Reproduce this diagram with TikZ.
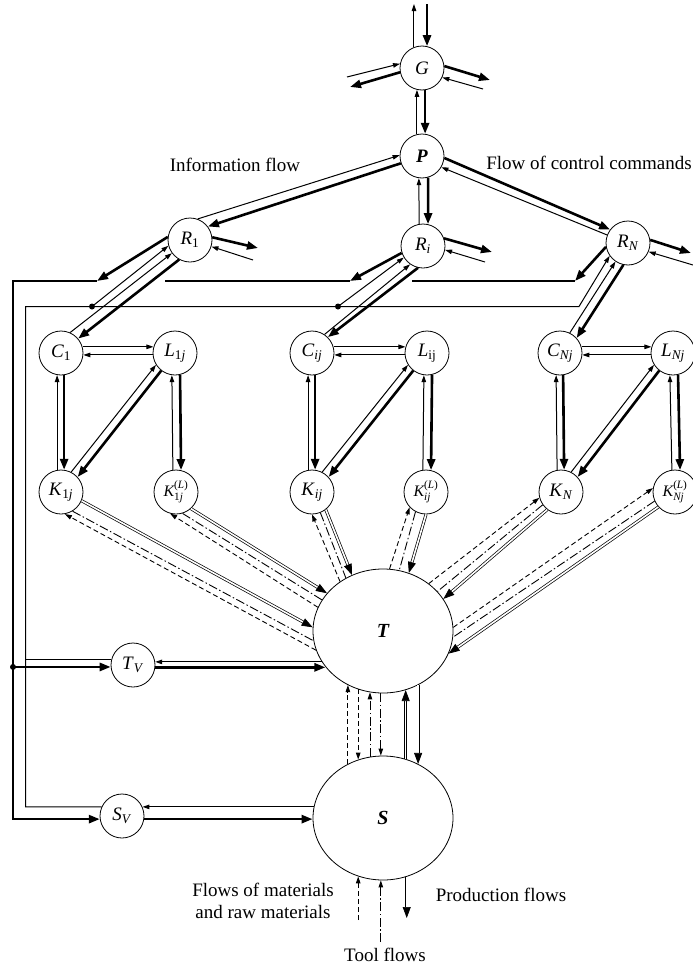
\documentclass[tikz,border=0pt]{standalone}
\usepackage{amsmath}
\usepackage{fontspec}
\setmainfont{Liberation Serif}
\usetikzlibrary{arrows.meta,shapes.geometric}
\begin{document}
\begin{tikzpicture}[x=1pt,y=-1pt,
  circ/.style={circle, draw, line width=0.8pt, minimum size=44pt, inner sep=0pt, font=\fontsize{19}{22}\selectfont},
  circs/.style={circ, font=\fontsize{16}{18}\selectfont},
  big/.style={ellipse, draw, line width=0.8pt, minimum width=140pt, minimum height=124pt, inner sep=0pt, font=\fontsize{20}{22}\selectfont\bfseries\itshape},
  lab/.style={font=\fontsize{19}{22}\selectfont, inner sep=0pt},
  thinl/.style={line width=1pt},
  thina/.style={line width=1pt, -{Triangle[length=7pt,width=4.5pt]}},
  thickl/.style={line width=2.6pt},
  thicka/.style={line width=2.6pt, -{Triangle[length=11pt,width=8pt]}},
  dbla/.style={double, line width=0.7pt, double distance=1.6pt, -{Triangle[length=11pt,width=8pt]}},
  dasha/.style={line width=0.9pt, dash pattern=on 5pt off 3pt, -{Triangle[length=7pt,width=4.5pt]}},
  dda/.style={line width=0.9pt, dash pattern=on 9pt off 2.5pt on 1.5pt off 2.5pt},
  ddaa/.style={dda, -{Triangle[length=7pt,width=4.5pt]}},
  dotf/.style={fill, circle, inner sep=0pt, minimum size=6pt}
]
\fill[white] (0,0) rectangle (693,969);
\useasboundingbox (0,0) rectangle (693,969);

% nodes
\node[circ] (G) at (422,68) {\textit{G}};
\node[circ] (P) at (422,156) {\textbf{\textit{P}}};
\node[circ] (R1) at (190,240) {\textit{R}\textsubscript{1}};
\node[circ] (R2) at (423,246) {\textit{R}\textsubscript{\textit{i}}};
\node[circ] (R3) at (628,243) {\textit{R}\textsubscript{\textit{N}}};

\node[circ] (C1) at (61,353) {\textit{C}\textsubscript{1}};
\node[circ] (L1) at (175,353) {\textit{L}\textsubscript{1\textit{j}}};
\node[circ] (K1) at (61,492) {\textit{K}\textsubscript{1\textit{j}}};
\node[circs] (KL1) at (176,492) {$\textit{K}^{\text{(\textit{L})}}_{\text{1\textit{j}}}$};

\node[circ] (C2) at (312,353) {\textit{C}\textsubscript{\textit{ij}}};
\node[circ] (L2) at (427,353) {\textit{L}\textsubscript{ij}};
\node[circ] (K2) at (312,492) {\textit{K}\textsubscript{\textit{ij}}};
\node[circs] (KL2) at (426,492) {$\textit{K}^{\text{(\textit{L})}}_{\text{\textit{ij}}}$};

\node[circ] (C3) at (560,353) {\textit{C}\textsubscript{\textit{Nj}}};
\node[circ] (L3) at (673,353) {\textit{L}\textsubscript{\textit{Nj}}};
\node[circ] (K3) at (561,492) {\textit{K}\textsubscript{\textit{N}}};
\node[circs] (KL3) at (675,492) {$\textit{K}^{\text{(\textit{L})}}_{\text{\textit{Nj}}}$};

\node[big] (T) at (383,631) {T};
\node[big] (S) at (383,818) {S};
\node[circ] (TV) at (133,665) {\textit{T}\textsubscript{\textit{V}}};
\node[circ] (SV) at (122,816) {\textit{S}\textsubscript{\textit{V}}};

% labels
\node[lab] (if) at (235,165) {Information flow};
\node[lab] (fc) at (589,163) {Flow of control commands};
\node[lab, align=center] (fm) at (263,901) {Flows of materials\\and raw materials};
\node[lab] (pf) at (501,895) {Production flows};
\node[lab] (tf) at (385,955) {Tool flows};

% free ends
\coordinate (gt1) at (414,4);
\coordinate (gt2) at (427,4);
\coordinate (gl1) at (347,77);
\coordinate (gl2) at (350,87);
\coordinate (gr1) at (490,80);
\coordinate (gr2) at (483,89);
\coordinate (r1a) at (258,248);
\coordinate (r1b) at (253,260);
\coordinate (r2a) at (492,252);
\coordinate (r2b) at (485,262);
\coordinate (r3a) at (691,253);
\coordinate (r3b) at (693,265);
\coordinate (b1) at (97,281);
\coordinate (b2) at (165,281);
\coordinate (b3) at (350,281);
\coordinate (b4) at (412,281);
\coordinate (b5) at (575,281);
\coordinate (bl) at (13,281);
\coordinate (tl) at (25.5,306.5);
\coordinate (tr) at (579,306.5);
\coordinate (d1) at (92,306.5);
\coordinate (d2) at (338,306.5);
\coordinate (sb1) at (358,920);
\coordinate (sb2) at (381,942);
\coordinate (sb3) at (407,918);

% G
\draw[thina] (G.111) -- (G.111 |- gt1);
\draw[thicka] (G.77 |- gt2) -- (G.77);
\draw[thina] (gl1) -- (G.169);
\draw[thicka] (G.191) -- (gl2);
\draw[thicka] (G.5) -- (gr1);
\draw[thina] (gr2) -- (G.335);
% G-P
\draw[thina] (P.103) -- (G.257);
\draw[thicka] (G.278) -- (P.82);
% P-R
\draw[thina] (R1.70) -- (P.178);
\draw[thicka] (P.199) -- (R1.37);
\draw[thina] (R2.100) -- (P.262);
\draw[thicka] (P.286) -- (R2.77);
\draw[thicka] (P.355) -- (R3.143);
\draw[thina] (R3.159) -- (P.330);
% R right
\draw[thicka] (R1.7) -- (r1a);
\draw[thina] (r1b) -- (R1.343);
\draw[thicka] (R2.20) -- (r2a);
\draw[thina] (r2b) -- (R2.350);
\draw[thicka] (R3.8) -- (r3a);
\draw[thina] (r3b) -- (R3.337);

% thick bus
\draw[thicka] (R1.172) -- (b1);
\draw[thicka] (R2.198) -- (b3);
\draw[thicka] (R3.190) -- (b5);
\draw[thickl] (b2) -- (b3);
\draw[thickl] (b4) -- (b5);
\draw[thicka] (b1) -- (bl) -- (bl |- SV.188) -- (SV.188);
\node[dotf] (dtv) at (bl |- TV.185) {};
\draw[thicka] (dtv.center) -- (TV.185);

% thin bus
\draw[thina] (SV.156) -- (SV.156 -| tl) -- (tl) -- (tr) -- (R3.215);
\draw[thinl] (TV.167) -- (TV.167 -| tl);
\node[dotf] (dd1) at (d1) {};
\node[dotf] (dd2) at (d2) {};
\draw[thina] (dd1.center) -- (R1.195);
\draw[thina] (dd2.center) -- (R2.211);

% R-C
\draw[thina] (C1.66) -- (R1.216);
\draw[thicka] (R1.241) -- (C1.40);
\draw[thina] (C2.56) -- (R2.235);
\draw[thicka] (R2.257) -- (C2.45);
\draw[thina] (C3.64) -- (R3.236);
\draw[thicka] (R3.258) -- (C3.42);

% groups
\foreach \g in {1,2,3} {
  \draw[thina] (C\g.16) -- (L\g.164);
  \draw[thina] (L\g.185) -- (C\g.355);
  \draw[thina] (K\g.100) -- (C\g.260);
  \draw[thicka] (C\g.278) -- (K\g.82);
  \draw[thina] (KL\g.98) -- (L\g.262);
  \draw[thicka] (L\g.283) -- (KL\g.77);
  \draw[thina] (K\g.63) -- (L\g.212);
  \draw[thicka] (L\g.232) -- (K\g.42);
}

% K - T bundles
\draw[dbla] (K1.337) -- (T.177);
\draw[dda] (K1.301) -- (T.188);
\draw[dasha] (T.196) -- (K1.280);

\draw[dbla] (KL1.312) -- (T.146);
\draw[dda] (KL1.287) -- (T.153);
\draw[dasha] (T.160) -- (KL1.255);

\draw[dbla] (K2.308) -- (T.119);
\draw[dda] (K2.292) -- (T.125);
\draw[dasha] (T.131) -- (K2.270);

\draw[dbla] (KL2.270) -- (T.66);
\draw[dda] (KL2.242) -- (T.75);
\draw[dasha] (T.84) -- (KL2.223);

\draw[dbla] (K3.232) -- (T.28);
\draw[dda] (K3.215) -- (T.36);
\draw[dasha] (T.46) -- (K3.195);

\draw[dbla] (KL3.222) -- (T.341);
\draw[dda] (KL3.204) -- (T.355);
\draw[dasha] (T.3) -- (KL3.170);

% T - TV, S - SV
\draw[thina] (TV.8 -| T.207) -- (TV.8);
\draw[thicka] (TV.354) -- (TV.354 -| T.212);
\draw[thina] (SV.24 -| S.171) -- (SV.24);
\draw[thicka] (SV.352) -- (SV.352 -| S.181);

% T - S
\draw[dasha] (S.123) -- (T.237);
\draw[dasha] (T.247) -- (S.113);
\draw[ddaa] (S.102) -- (T.258);
\draw[ddaa] (T.268) -- (S.92);
\draw[dbla] (S.69) -- (T.291);
\draw[dbla] (T.303) -- (S.57);

% below S
\draw[dasha] (S.247 |- sb1) -- (S.247);
\draw[ddaa] (S.268 |- sb2) -- (S.268);
\draw[dbla] (S.292) -- (S.292 |- sb3);
\end{tikzpicture}
\end{document}
